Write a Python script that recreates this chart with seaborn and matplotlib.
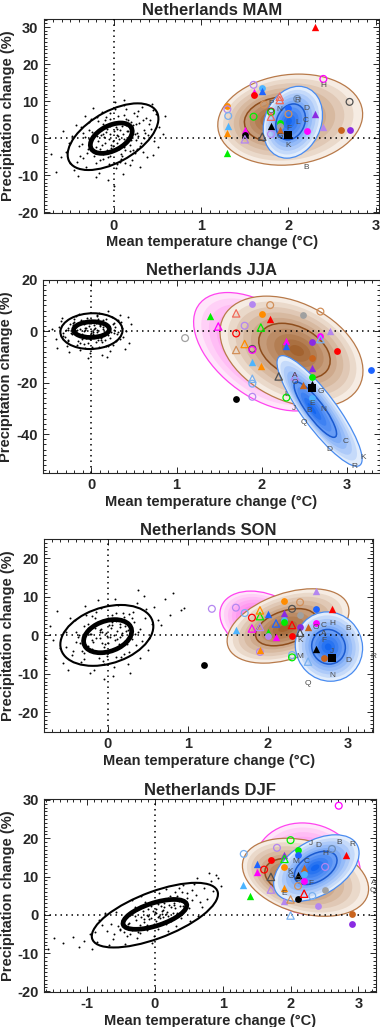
import numpy as np
import pandas as pd
import matplotlib
matplotlib.use("Agg")
import matplotlib.pyplot as plt
from matplotlib.patches import Ellipse
from matplotlib.ticker import MultipleLocator, AutoMinorLocator
from matplotlib.colors import to_rgb
import seaborn as sns

# =========================
# DATA
# =========================

SEASONS = ["MAM", "JJA", "SON", "DJF"]

# natural variability cloud (dT, dP) per season
MAM_CLOUD = """
-0.05 1.2 0.12 -2.3 -0.31 -4.1 0.22 3.5 0.05 6.1 -0.18 -0.8 0.35 2.2 -0.42 -6.3 0.08 -5.5 0.28 7.4
-0.12 3.9 0.17 0.4 -0.25 1.8 0.41 4.8 -0.08 -3.2 0.02 -8.1 -0.36 -1.5 0.31 -1.2 0.14 5.3 -0.21 -6.8
0.48 6.5 -0.55 -3.7 0.03 2.6 -0.14 7.2 0.24 -4.0 -0.03 -1.9 0.39 0.9 -0.29 4.4 0.11 8.9 -0.46 -8.5
0.19 -7.2 -0.09 5.7 0.27 1.5 -0.38 2.9 0.06 -0.3 0.52 3.1 -0.17 -9.4 0.33 -3.6 -0.02 4.1 -0.27 -2.6
0.15 -1.1 -0.61 -5.2 0.44 9.3 -0.11 0.2 0.09 3.3 -0.33 6.0 0.21 -5.9 -0.05 -4.7 0.37 5.5 -0.22 -3.9
0.01 9.8 -0.48 0.7 0.25 -0.6 -0.15 2.1 0.13 -3.1 0.46 -0.8 -0.07 -11.2 0.29 4.0 -0.39 -4.8 0.04 0.8
-0.24 8.1 0.18 2.8 -0.13 -5.6 0.56 1.2 -0.01 -2.2 0.32 8.5 -0.44 3.5 0.10 -9.8 -0.19 0.5 0.23 6.8
-0.32 -7.7 0.07 -6.4 -0.66 -9.1 0.38 -5.1 -0.10 4.9 0.16 1.9 -0.28 -0.2 0.43 2.6 -0.04 6.9 0.26 -2.8
-0.52 -1.4 0.12 10.4 -0.20 -10.6 0.34 0.1 -0.06 -7.0 0.20 4.5 -0.35 1.3 0.50 -2.5 -0.16 -2.9 0.00 -12.8
-0.72 -4.3 0.58 5.9 -0.26 5.2 0.08 -4.4 0.30 -7.9 -0.41 -10.2 0.14 7.8 -0.58 2.0 0.45 -4.6 -0.09 1.6
0.05 0.5 -0.10 -1.2 0.15 2.0 -0.20 -2.5 0.02 3.0 -0.06 -0.1 0.10 1.1 -0.15 0.8 0.20 -0.5 -0.02 -3.5
0.08 4.2 -0.12 -4.4 0.25 3.8 -0.30 -3.0 0.18 -1.8 -0.22 1.5 0.03 -1.4 0.12 6.3 -0.08 2.4 0.28 0.7
-0.16 -6.0 0.06 -2.9 -0.04 5.1 0.22 -3.2 -0.26 -0.7 0.14 3.6 -0.10 3.4 0.33 5.0 -0.35 -5.4 0.00 1.9
0.09 -4.9 -0.18 4.6 0.40 3.9 -0.01 -0.8 0.17 0.2 -0.28 2.3 0.26 6.0 -0.07 -5.2 0.11 -0.3 -0.13 1.0
0.36 1.4 -0.40 -2.1 0.04 -6.9 0.21 2.9 -0.23 -4.9 0.07 2.2 -0.03 -2.7 0.30 -2.0 -0.19 5.6 0.13 -6.7
-0.05 3.3 0.24 1.0 -0.33 0.3 0.16 4.8 -0.09 -3.9 0.45 7.6 -0.50 -6.6 0.01 7.8 0.19 -3.4 -0.14 -1.9
"""

JJA_CLOUD = """
0.03 0.8 -0.12 -1.6 0.18 2.4 -0.22 3.1 0.08 -3.5 -0.05 5.0 0.26 -0.7 -0.31 -2.2 0.14 4.2 -0.09 -5.1
0.21 1.3 -0.17 0.4 0.02 -1.0 0.35 3.6 -0.27 -4.0 0.11 -2.7 -0.03 2.0 0.29 -3.9 -0.38 1.5 0.06 6.3
-0.14 -7.4 0.17 -5.8 -0.20 4.7 0.41 0.2 -0.07 3.3 0.24 5.4 -0.33 -0.9 0.01 -6.2 0.13 0.9 -0.25 2.6
0.37 -2.1 -0.11 -3.0 0.09 7.1 -0.42 -2.9 0.19 -1.4 -0.02 -8.6 0.31 4.3 -0.18 5.9 0.05 -4.4 -0.29 -5.7
0.44 -4.8 -0.08 1.1 0.22 -7.9 -0.36 3.8 0.15 3.0 -0.01 0.1 0.28 1.8 -0.23 -1.3 0.07 -0.4 -0.15 6.8
0.33 6.1 -0.40 -6.6 0.12 -9.3 -0.06 -2.5 0.25 -5.2 -0.19 1.9 0.47 2.7 -0.10 4.0 0.00 3.9 0.16 -3.3
-0.30 0.6 0.39 -6.9 -0.04 -10.4 0.20 7.7 -0.26 -8.1 0.10 2.2 -0.13 -4.6 0.30 -1.1 -0.35 5.1 0.04 -1.8
-0.21 -0.2 0.43 5.6 -0.46 0.9 0.18 -10.1 -0.16 2.9 0.27 0.5 0.08 4.8 -0.28 -3.4 0.36 1.2 -0.08 -6.7
0.02 -0.5 -0.06 1.2 0.10 2.1 -0.14 -2.0 0.05 3.1 -0.02 -3.1 0.15 -0.6 -0.18 1.6 0.08 -1.8 -0.09 2.7
0.20 0.9 -0.24 -0.8 0.00 4.4 0.12 -4.1 -0.11 -1.2 0.25 2.9 -0.20 3.6 0.07 0.3 -0.04 -4.8 0.17 4.9
-0.28 0.4 0.31 -0.2 -0.07 0.6 0.03 2.4 -0.16 -3.7 0.22 -2.6 -0.01 -0.9 0.13 1.7 -0.12 4.5 0.09 -6.1
-0.34 -1.7 0.27 3.3 -0.05 -2.4 0.19 -5.6 -0.22 2.2 0.34 -3.0 0.04 1.4 -0.09 -0.1 0.14 -1.0 -0.17 -5.3
0.06 5.7 -0.27 1.1 0.23 -0.4 -0.03 3.0 0.11 -3.4 -0.13 0.8
"""

SON_CLOUD = """
-0.02 0.6 0.15 2.3 -0.24 -2.8 0.31 4.5 -0.11 3.2 0.06 -3.9 -0.37 -0.4 0.22 -1.5 -0.15 6.1 0.40 1.7
-0.45 -5.2 0.10 5.7 -0.06 -6.6 0.27 -4.2 -0.30 2.5 0.18 0.1 -0.19 -1.1 0.48 6.8 0.01 -1.9 -0.52 1.0
0.35 -2.6 -0.09 1.4 0.13 7.9 -0.33 -6.9 0.24 3.1 -0.27 5.3 0.04 4.0 -0.60 -3.3 0.55 2.9 -0.13 -4.3
0.08 -8.2 -0.41 3.9 0.29 -0.3 -0.04 -3.0 0.43 -1.4 -0.21 0.3 0.17 -5.7 -0.56 -7.1 0.37 8.4 -0.08 7.2
0.20 4.9 -0.35 -2.0 0.02 2.7 0.50 -3.8 -0.17 -8.9 0.12 -0.9 -0.47 4.6 0.32 6.2 -0.01 -5.4 -0.25 1.9
0.63 4.1 -0.68 -1.2 0.26 -7.3 -0.12 9.1 0.45 10.2 -0.39 0.8 0.07 -10.6 -0.72 2.4 0.58 7.5 -0.22 -9.8
0.72 9.4 0.82 11.1 0.91 6.5 0.95 7.2 0.66 2.8 0.78 5.3 -0.78 -5.8 -0.63 6.4 0.38 11.8 0.14 -2.2
-0.30 -4.6 0.23 1.1 -0.10 -0.6 0.05 3.5 0.34 0.4 -0.16 4.4 0.40 -5.9 -0.50 -9.0 0.09 9.5 -0.05 -11.4
0.28 -9.7 -0.43 -4.0 0.19 5.9 -0.28 7.7 0.52 -0.6 -0.07 0.9
0.03 -0.4 -0.08 1.6 0.12 1.2 -0.18 -1.6 0.06 2.8 -0.03 -2.3 0.18 0.7 -0.22 0.4 0.09 -1.3 -0.12 3.6
0.22 2.4 -0.28 -2.6 0.01 4.6 0.14 -3.1 -0.14 -0.8 0.26 1.3 -0.32 -4.1 0.08 0.2 -0.05 -4.6 0.19 4.0
-0.36 0.2 0.30 -0.9 -0.10 0.9 0.04 1.9 -0.20 -3.6 0.24 -2.2 -0.01 -0.2 0.16 3.0 -0.16 2.0 0.11 -5.5
-0.40 -1.8 0.33 3.4 -0.07 -2.0 0.20 -4.9 -0.25 3.0 0.38 0.8 0.05 5.2 -0.11 -5.9 0.15 -0.4 -0.29 -6.0
0.46 4.4 -0.52 -3.0 0.27 5.5 -0.04 -7.4 0.10 3.8 -0.19 5.0
"""

DJF_CLOUD = """
-0.05 -0.8 0.21 2.6 -0.32 -3.4 0.45 3.1 -0.18 0.9 0.12 -0.6 -0.55 -3.0 0.33 4.8 -0.41 -5.5 0.02 1.5
0.60 5.2 -0.70 -4.2 0.27 0.4 -0.12 -2.7 0.50 1.8 -0.26 1.2 0.08 3.8 -0.85 -7.1 0.72 7.0 -0.48 -1.5
0.38 -0.9 -0.08 2.9 0.16 -2.4 -0.36 0.0 0.66 3.3 -0.62 -6.4 0.04 -3.8 0.29 5.9 -0.22 -4.8 0.55 6.4
-0.95 -5.1 0.82 8.8 -0.15 3.4 0.41 1.0 -0.78 -2.8 0.19 4.4 -0.44 -7.6 0.10 0.3 -0.30 2.1 0.64 -0.3
-1.05 -6.9 0.90 10.3 -0.01 -5.6 0.35 6.9 -0.58 0.8 0.24 -1.6 -0.68 -8.0 0.47 4.5 -0.10 -0.2 0.77 4.2
-1.20 -5.9 0.14 2.0 -0.38 -2.1 0.58 8.1 -0.88 -4.4 0.31 -2.9 -0.20 5.0 0.86 6.1 -0.52 -4.0 0.06 5.6
-1.35 -7.4 -1.48 -6.2 0.93 9.6 -0.04 -7.3 0.70 1.9 -0.74 0.5 0.42 7.8 -0.27 -6.2 0.20 -4.3 -1.12 -8.5
0.52 -1.7 -0.64 -2.3 0.98 7.4 -0.34 3.9 0.00 0.6 0.28 3.0 -0.45 -3.1 0.62 9.7 -0.92 -8.9 0.09 -2.1
-1.58 -9.0 0.80 11.0 -0.16 -1.0 0.37 2.3 -0.82 -1.3 0.17 6.7
0.02 0.4 -0.08 -1.0 0.12 1.3 -0.16 -1.9 0.06 -0.2 -0.03 0.9 0.18 0.6 -0.22 -2.6 0.09 2.4 -0.12 -0.1
0.24 2.0 -0.28 -1.4 0.01 -1.5 0.14 3.1 -0.14 -3.3 0.30 1.7 -0.34 -3.9 0.08 -0.9 -0.05 2.2 0.20 -0.4
-0.40 -2.4 0.36 3.6 -0.10 1.5 0.04 2.8 -0.20 -0.6 0.26 4.3 -0.01 -2.5 0.16 0.2 -0.25 -4.5 0.11 1.0
-0.46 -4.6 0.42 2.2 -0.06 -3.0 0.22 5.0 -0.30 -0.3 0.48 5.6 0.05 -0.6 -0.11 -4.1 0.32 0.5 -0.37 -5.1
0.54 3.8 -0.60 -5.0 0.40 5.9 -0.18 1.9 0.28 2.5 -0.52 -3.8
"""

# variability ellipses: (cx, cy, half-width dT, half-width dP, correlation)
MAM_VAR = [(-0.01, 0.4, 0.52, 9.0, 0.54), (-0.03, 0.0, 0.24, 4.1, 0.45)]
JJA_VAR = [(0.0, 0.0, 0.365, 6.95, 0.05), (0.0, 0.6, 0.21, 3.05, 0.05)]
SON_VAR = [(-0.01, 0.0, 0.58, 7.9, 0.30), (0.0, -0.2, 0.30, 4.3, 0.30)]
DJF_VAR = [(0.0, -0.1, 0.93, 8.45, 0.65), (0.0, 0.1, 0.47, 3.9, 0.60)]

# model-ensemble densities: (cx, cy, core x, core y, half dT, half dP, correlation)
MAM_DENS = {"brown": (2.02, 5.0, 1.80, 5.0, 0.83, 12.3, 0.12),
            "blue": (2.05, 4.3, 2.00, 4.5, 0.34, 9.7, 0.20)}
JJA_DENS = {"magenta": (2.00, -8.0, 2.10, -8.0, 0.80, 23.0, -0.50),
            "brown": (2.35, -7.9, 2.42, -7.5, 0.84, 21.5, -0.35),
            "blue": (2.68, -31.0, 2.58, -30.0, 0.50, 21.5, -0.87)}
SON_DENS = {"magenta": (1.95, 3.0, 1.90, 4.0, 0.55, 8.5, -0.30),
            "brown": (2.25, 2.45, 2.20, 1.8, 0.76, 9.65, 0.40),
            "blue": (2.76, -2.9, 2.75, -3.0, 0.42, 9.0, -0.05)}
DJF_DENS = {"magenta": (2.25, 12.0, 2.25, 12.0, 0.78, 12.0, -0.10),
            "brown": (2.22, 9.8, 1.95, 9.5, 0.93, 10.2, -0.30),
            "blue": (2.38, 12.2, 2.36, 12.3, 0.63, 8.7, 0.45)}

# GCM results: (dT, dP, "colour kind") kind: c filled circle, C open circle,
# t filled triangle, T open triangle, s filled square
MAM_GCM = [
    (2.30, 29.9, "red t"), (2.40, 16.0, "magenta C"), (1.60, 14.4, "lav C"),
    (1.60, 12.6, "magenta t"), (1.60, 11.7, "red c"), (1.70, 13.5, "sky c"),
    (1.70, 12.8, "blue t"), (1.72, 9.1, "tan C"), (1.90, 11.2, "salmon T"),
    (1.90, 10.3, "salmon T"), (2.10, 10.6, "steel C"), (1.30, 8.7, "orange c"),
    (1.30, 7.8, "lav C"), (1.31, 6.0, "ltblue C"), (1.60, 5.8, "green C"),
    (1.80, 7.2, "red C"), (1.80, 7.0, "green C"), (1.80, 5.8, "salmon T"),
    (2.00, 8.1, "blue c"), (2.00, 6.5, "tan C"), (1.31, 3.3, "sky t"),
    (1.30, 1.3, "orange t"), (1.50, 2.2, "magenta t"), (1.50, 0.9, "black c"),
    (1.50, -0.3, "lav T"), (1.80, 3.3, "black t"), (1.90, 4.0, "green c"),
    (1.90, 3.3, "grey c"), (1.90, 2.2, "choc t"), (2.00, 0.9, "black s"),
    (1.80, 1.1, "lav C"), (1.70, 0.4, "dgrey T"), (2.21, 1.9, "magenta c"),
    (2.30, 6.5, "purple t"), (2.40, 3.1, "lav t"), (2.60, 2.1, "choc c"),
    (2.70, 2.1, "purple c"), (2.70, 9.8, "dgrey C"), (1.30, -3.9, "green t"),
]
JJA_GCM = [
    (1.10, -2.7, "grey C"), (1.39, 5.8, "green t"), (1.49, 1.8, "magenta T"),
    (1.70, 6.9, "salmon T"), (1.70, -0.9, "red C"), (1.70, -7.3, "tan T"),
    (1.80, 2.1, "lav C"), (1.80, -5.0, "orange T"), (1.89, 10.4, "lav c"),
    (1.89, -6.9, "dgrey C"), (1.89, -7.3, "magenta C"), (1.89, -11.8, "sky t"),
    (1.89, -18.5, "ltblue T"), (1.89, -20.4, "ltblue C"), (1.89, -25.5, "lav C"),
    (1.70, -26.4, "black c"), (2.10, 10.1, "tan C"), (2.00, 6.5, "orange c"),
    (2.10, 4.9, "red t"), (1.99, 1.4, "green T"), (1.99, -13.6, "orange t"),
    (2.20, -17.6, "dgrey T"), (2.29, -3.7, "magenta t"), (2.29, -5.9, "blue t"),
    (2.49, 6.3, "grey c"), (2.69, 7.6, "tan C"), (2.69, -1.8, "magenta c"),
    (2.69, -3.1, "ltblue T"), (2.80, 0.1, "lav t"), (2.59, -4.4, "purple c"),
    (2.59, -10.3, "choc c"), (2.89, -7.6, "red c"), (2.59, -14.2, "purple t"),
    (2.59, -17.8, "green c"), (2.39, -17.6, "lav T"), (2.49, -21.0, "choc t"),
    (2.59, -20.4, "black t"), (2.59, -22.0, "black s"), (2.59, -25.9, "sky c"),
    (2.29, -25.8, "green C"), (3.29, -15.0, "blue c"),
]
SON_GCM = [
    (1.30, 6.9, "lav C"), (1.20, -7.7, "black c"), (1.60, 7.2, "lav C"),
    (1.60, 1.4, "sky t"), (1.71, 5.8, "ltblue C"), (1.80, 4.6, "red C"),
    (1.90, 5.0, "green T"), (1.90, 6.5, "orange T"), (1.80, 1.8, "magenta T"),
    (1.90, 2.2, "lav T"), (1.90, -4.3, "lav C"), (1.90, -3.8, "orange t"),
    (2.00, 5.5, "blue t"), (2.00, 0.9, "green t"), (2.00, -0.2, "lav c"),
    (2.10, -0.3, "magenta t"), (2.10, 3.1, "blue T"), (2.20, 8.9, "orange c"),
    (2.20, 5.8, "purple t"), (2.20, 4.1, "sky c"), (2.20, 3.4, "green c"),
    (2.30, 6.9, "dgrey C"), (2.40, 5.2, "grey c"), (2.40, 8.6, "tan C"),
    (2.30, 2.7, "red T"), (2.30, -0.2, "red c"), (2.40, 2.1, "purple c"),
    (2.40, 0.7, "dgrey T"), (2.50, 2.1, "choc t"), (2.60, 6.9, "blue c"),
    (2.60, 11.5, "lav t"), (2.80, 6.9, "red t"), (2.60, 3.3, "magenta c"),
    (2.30, -5.1, "ltblue C"), (2.30, -5.7, "green C"), (2.50, -6.8, "ltblue T"),
    (2.60, -3.6, "black t"), (2.70, -5.9, "choc c"), (2.80, -5.9, "black s"),
]
DJF_GCM = [
    (2.71, 28.5, "magenta C"), (2.00, 19.5, "green C"), (1.80, 17.5, "lav C"),
    (1.91, 15.7, "purple t"), (2.11, 16.9, "green c"), (2.11, 15.5, "blue c"),
    (1.91, 14.6, "green T"), (1.31, 15.9, "ltblue C"), (1.71, 14.4, "red c"),
    (1.50, 13.2, "blue t"), (1.61, 11.8, "red C"), (1.91, 12.5, "orange c"),
    (1.50, 11.1, "magenta t"), (1.71, 9.9, "dgrey T"), (2.20, 12.2, "choc t"),
    (2.11, 10.3, "black t"), (2.20, 10.7, "sky c"), (2.20, 8.8, "magenta c"),
    (2.11, 7.5, "tan C"), (2.11, 4.2, "black c"), (1.91, 7.0, "orange t"),
    (1.71, 6.6, "lav T"), (2.20, 5.5, "red T"), (1.30, 7.9, "sky t"),
    (1.40, 5.0, "green t"), (1.91, 3.7, "lav t"), (2.00, 4.0, "tan T"),
    (2.32, 4.9, "ltblue C"), (2.51, 6.4, "grey c"), (2.41, 2.3, "lav c"),
    (2.00, -0.2, "ltblue T"), (2.51, 12.5, "lav C"), (2.61, 17.2, "steel C"),
    (2.81, 15.5, "red t"), (2.91, 0.1, "choc c"), (2.91, -2.5, "purple c"),
]

# RCM letter labels
MAM_RCM = [("P", 1.80, 9.3), ("R", 2.10, 10.1), ("N", 1.90, 7.8), ("D", 2.20, 8.0),
           ("C", 2.20, 4.7), ("L", 2.10, 4.2), ("F", 2.00, 2.6), ("G", 1.90, 0.4),
           ("K", 2.00, -2.1), ("B", 2.20, -7.9), ("H", 2.40, 14.3), ("O", 1.80, 7.2)]
JJA_RCM = [("A", 2.39, -17.2), ("O", 2.39, -20.1), ("L", 2.29, -24.5), ("J", 2.38, -30.0),
           ("G", 2.69, -23.6), ("E", 2.59, -28.0), ("B", 2.56, -31.0), ("N", 2.72, -30.4),
           ("Q", 2.49, -35.5), ("C", 2.99, -42.8), ("D", 2.80, -46.0), ("K", 3.19, -49.2),
           ("R", 3.09, -52.7)]
SON_RCM = [("C", 2.70, 2.7), ("H", 2.80, 3.1), ("B", 3.00, 1.8), ("A", 2.70, 0.5),
           ("F", 2.70, -1.4), ("J", 2.80, -4.2), ("D", 3.00, -6.4), ("R", 3.31, -5.5),
           ("N", 2.80, -10.5), ("Q", 2.50, -12.6), ("M", 2.40, -5.5), ("K", 2.40, -1.4),
           ("O", 2.60, 2.1)]
DJF_RCM = [("J", 2.30, 18.6), ("D", 2.41, 18.1), ("B", 2.71, 19.0), ("R", 2.91, 18.3),
           ("H", 2.51, 16.0), ("M", 2.08, 14.0), ("C", 2.24, 14.0), ("K", 2.00, 11.4),
           ("G", 2.00, 10.1), ("O", 2.11, 9.2), ("F", 2.30, 8.2), ("E", 1.91, 5.6),
           ("A", 3.22, 8.5), ("Q", 3.22, 6.4)]

XLIMS = {"MAM": (-0.80, 3.04), "JJA": (-0.57, 3.39), "SON": (-0.79, 3.31), "DJF": (-1.63, 3.26)}
YLIMS = {"MAM": (-20.2, 32.2), "JJA": (-55, 20), "SON": (-25, 25), "DJF": (-20.1, 30.2)}
YSTEP = {"MAM": 10, "JJA": 20, "SON": 10, "DJF": 10}

# =========================
# STYLE
# =========================

COLORS = {"red": "#ff0000", "magenta": "#ff00ff", "lav": "#b486f0", "purple": "#8a2be2",
          "orange": "#ff8c00", "choc": "#c8641e", "tan": "#d2905a", "salmon": "#f06a5a",
          "sky": "#4cb4ff", "ltblue": "#78b0f0", "blue": "#1e64ff", "steel": "#6e8cb4",
          "green": "#00ee00", "black": "#000000", "grey": "#a0a0a0", "dgrey": "#505050"}

DENS_STYLE = {  # light, dark, outline, inner contour, zorder
    "magenta": ("#ffe6fa", "#ff48e6", "#ff44f0", None, 1),
    "brown": ("#f6ece3", "#a2622f", "#b87a4a", "#8e4d1c", 2),
    "blue": ("#e2edfc", "#1466f0", "#4a8cf0", "#1a5ad0", 3),
}

AX_RECTS = {"MAM": [0.116, 0.7926, 0.882, 0.189],
            "JJA": [0.113, 0.5397, 0.887, 0.188],
            "SON": [0.1166, 0.2875, 0.865, 0.1876],
            "DJF": [0.1166, 0.0344, 0.873, 0.1874]}


def ellipse_shape(hx, hy, rho):
    cov = np.array([[hx * hx, rho * hx * hy], [rho * hx * hy, hy * hy]])
    vals, vecs = np.linalg.eigh(cov)
    width = 2 * np.sqrt(vals[1])
    height = 2 * np.sqrt(vals[0])
    angle = np.degrees(np.arctan2(vecs[1, 1], vecs[0, 1]))
    return width, height, angle


def draw_density(ax, name, params, nlev=10):
    cx, cy, kx, ky, hx, hy, rho = params
    light, dark, edge, inner, z = DENS_STYLE[name]
    lo, hi = np.array(to_rgb(light)), np.array(to_rgb(dark))
    for i in range(nlev):
        s = 1 - i / nlev
        t = (i / (nlev - 1)) ** 0.9
        w, h, a = ellipse_shape(hx * s, hy * s, rho)
        ax.add_patch(Ellipse((kx + s * (cx - kx), ky + s * (cy - ky)), w, h, angle=a,
                             facecolor=lo * (1 - t) + hi * t, edgecolor="none", zorder=z))
    w, h, a = ellipse_shape(hx, hy, rho)
    ax.add_patch(Ellipse((cx, cy), w, h, angle=a, facecolor="none",
                         edgecolor=edge, lw=0.9, zorder=z))
    if inner:
        s = 0.5
        w, h, a = ellipse_shape(hx * s, hy * s, rho)
        ax.add_patch(Ellipse((kx + s * (cx - kx), ky + s * (cy - ky)), w, h, angle=a,
                             facecolor="none", edgecolor=inner, lw=1.1, zorder=z))


def draw_gcms(ax, gcms):
    for x, y, code in gcms:
        cname, kind = code.split()
        col = COLORS[cname]
        marker = {"c": "o", "C": "o", "t": "^", "T": "^", "s": "s"}[kind]
        size = {"o": 24, "^": 28, "s": 26}[marker]
        if kind.isupper():
            ax.scatter([x], [y], s=size, marker=marker, facecolors="none",
                       edgecolors=col, linewidths=0.9, zorder=6)
        else:
            ax.scatter([x], [y], s=size, marker=marker, color=col,
                       linewidths=0, zorder=6)


# =========================
# PLOT
# =========================

sns.set_style("ticks")
plt.rcParams["font.family"] = ["Liberation Sans", "DejaVu Sans"]
plt.rcParams["font.weight"] = "bold"
plt.rcParams["axes.unicode_minus"] = False

clouds = {"MAM": MAM_CLOUD, "JJA": JJA_CLOUD, "SON": SON_CLOUD, "DJF": DJF_CLOUD}
var_ell = {"MAM": MAM_VAR, "JJA": JJA_VAR, "SON": SON_VAR, "DJF": DJF_VAR}
dens = {"MAM": MAM_DENS, "JJA": JJA_DENS, "SON": SON_DENS, "DJF": DJF_DENS}
gcms = {"MAM": MAM_GCM, "JJA": JJA_GCM, "SON": SON_GCM, "DJF": DJF_GCM}
rcms = {"MAM": MAM_RCM, "JJA": JJA_RCM, "SON": SON_RCM, "DJF": DJF_RCM}

fig = plt.figure(figsize=(3.8, 10.27), dpi=100)

for season in SEASONS:
    ax = fig.add_axes(AX_RECTS[season])

    for name in ["magenta", "brown", "blue"]:
        if name in dens[season]:
            draw_density(ax, name, dens[season][name])

    pts = np.array(clouds[season].split(), dtype=float).reshape(-1, 2)
    cloud = pd.DataFrame({"dT": pts[:, 0], "dP": pts[:, 1]})
    sns.scatterplot(data=cloud, x="dT", y="dP", ax=ax, s=2.0, color="black",
                    linewidth=0, zorder=4, legend=False)

    for (cx, cy, hx, hy, rho), lw in zip(var_ell[season], [1.5, 3.4]):
        w, h, a = ellipse_shape(hx, hy, rho)
        ax.add_patch(Ellipse((cx, cy), w, h, angle=a, facecolor="none",
                             edgecolor="black", lw=lw, zorder=5))

    draw_gcms(ax, gcms[season])
    for lab, x, y in rcms[season]:
        ax.text(x, y, lab, fontsize=6.0, fontweight="normal", color="#4a4a4a",
                ha="center", va="center", zorder=7)

    ax.axhline(0, color="black", lw=1.1, ls=(0, (1, 2.6)), zorder=3.5)
    ax.axvline(0, color="black", lw=1.1, ls=(0, (1, 2.6)), zorder=3.5)

    ax.set_xlim(XLIMS[season])
    ax.set_ylim(YLIMS[season])
    ax.xaxis.set_major_locator(MultipleLocator(1))
    ax.yaxis.set_major_locator(MultipleLocator(YSTEP[season]))
    ax.xaxis.set_minor_locator(AutoMinorLocator(10))
    ax.yaxis.set_minor_locator(AutoMinorLocator(10))
    ax.tick_params(which="both", direction="in", top=True, right=True,
                   width=0.7, labelsize=10.5, pad=4)
    ax.tick_params(which="major", length=4.5)
    ax.tick_params(which="minor", length=2.2)
    for sp in ax.spines.values():
        sp.set_linewidth(0.8)

    ax.set_title(f"Netherlands {season}", fontsize=12, fontweight="bold", pad=3)
    ax.set_xlabel("Mean temperature change (\u00b0C)", fontsize=10.5,
                  fontweight="bold", labelpad=2)
    ax.set_ylabel("Precipitation change (%)", fontsize=10.5, fontweight="bold")
    ax.yaxis.set_label_coords(-0.088, 0.5)

fig.savefig("out.png", dpi=100)
